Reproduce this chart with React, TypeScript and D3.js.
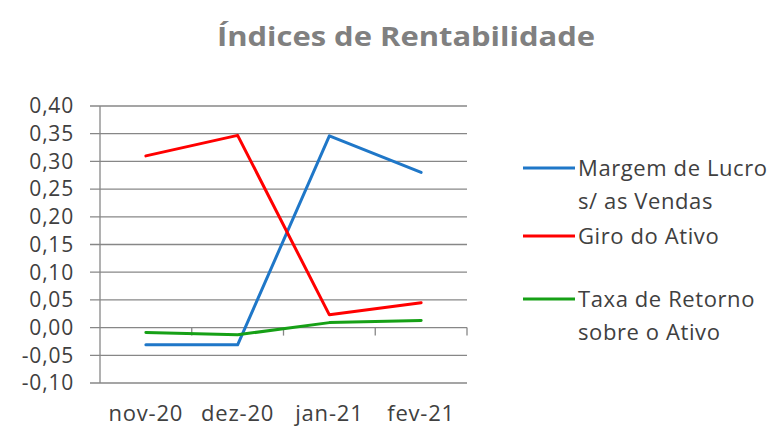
import React from "react";
import * as d3 from "d3";

const categories = ["nov-20", "dez-20", "jan-21", "fev-21"];
const margemLucro = [-0.031, -0.031, 0.346, 0.28];
const giroAtivo = [0.31, 0.347, 0.023, 0.045];
const taxaRetorno = [-0.009, -0.013, 0.009, 0.013];
const yTicks = [-0.1, -0.05, 0, 0.05, 0.1, 0.15, 0.2, 0.25, 0.3, 0.35, 0.4];

const series = [
  { name: ["Margem de Lucro", "s/ as Vendas"], values: margemLucro, color: "#1f77c8" },
  { name: ["Giro do Ativo"], values: giroAtivo, color: "#ff0000" },
  { name: ["Taxa de Retorno", "sobre o Ativo"], values: taxaRetorno, color: "#16a016" },
];

const W = 775;
const H = 429;
const FONT = "'Open Sans', 'Noto Sans', sans-serif";

export default function App() {
  const left = 100;
  const right = 467;
  const top = 106;
  const bottom = 383;
  const x = d3.scaleBand<string>().domain(categories).range([left, right]).padding(0);
  const y = d3.scaleLinear().domain([-0.1, 0.4]).range([bottom, top]);
  const line = d3
    .line<number>()
    .x((_, i) => (x(categories[i]) as number) + x.bandwidth() / 2)
    .y((d) => y(d));
  const fmt = (v: number) => d3.format(".2f")(v).replace(".", ",").replace("−", "-");
  const gridColor = "#878787";
  const legendY = [168, 236, 299];
  return (
    <svg width={W} height={H} style={{ position: "absolute", left: 0, top: 0, background: "#fff" }}>
      <rect x={0} y={0} width={W} height={H} fill="#fff" />
      <text
        x={406}
        y={46}
        textAnchor="middle"
        fontFamily={FONT}
        fontWeight="bold"
        fontSize={27}
        fill="#808080"
        textLength={378}
        lengthAdjust="spacingAndGlyphs"
      >
        Índices de Rentabilidade
      </text>
      {yTicks.map((t) => (
        <g key={t}>
          <line x1={90} x2={right} y1={y(t)} y2={y(t)} stroke={gridColor} strokeWidth={1.3} />
          <text x={74} y={y(t)} dy="0.35em" textAnchor="end" fontFamily={FONT} fontSize={21} letterSpacing={0.8} fill="#404040">
            {fmt(t)}
          </text>
        </g>
      ))}
      <line x1={left} x2={left} y1={top} y2={bottom} stroke={gridColor} strokeWidth={1.3} />
      {categories.map((c) => (
        <line
          key={"tk" + c}
          x1={(x(c) as number) + x.bandwidth()}
          x2={(x(c) as number) + x.bandwidth()}
          y1={y(0)}
          y2={y(0) + 8}
          stroke={gridColor}
          strokeWidth={1.3}
        />
      ))}
      {categories.map((c) => (
        <text
          key={c}
          x={(x(c) as number) + x.bandwidth() / 2}
          y={421}
          textAnchor="middle"
          fontFamily={FONT}
          fontSize={22}
          letterSpacing={0.8}
          fill="#404040"
        >
          {c}
        </text>
      ))}
      {series.map((s) => (
        <path key={s.name[0]} d={line(s.values) || ""} fill="none" stroke={s.color} strokeWidth={3} strokeLinejoin="round" strokeLinecap="round" />
      ))}
      {series.map((s, i) => (
        <g key={"lg" + i}>
          <line x1={523} x2={575} y1={legendY[i]} y2={legendY[i]} stroke={s.color} strokeWidth={3} />
          {s.name.map((n, j) => (
            <text key={n} x={578} y={legendY[i] + j * 33} dy="0.35em" fontFamily={FONT} fontSize={22} letterSpacing={0.6} fill="#404040">
              {n}
            </text>
          ))}
        </g>
      ))}
    </svg>
  );
}
